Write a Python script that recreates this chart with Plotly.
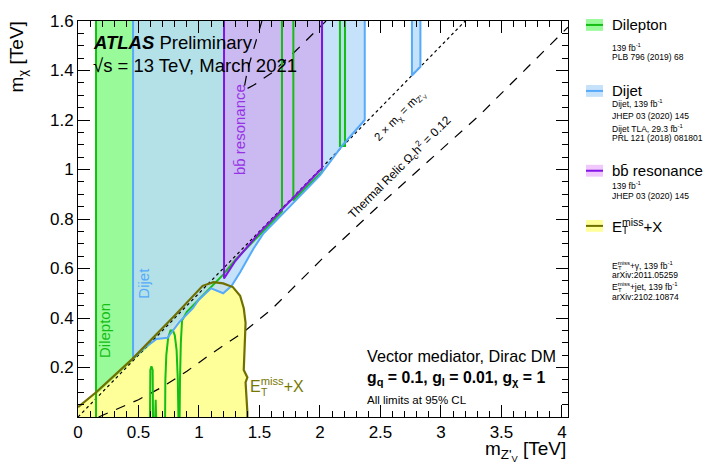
import plotly.graph_objects as go

# ---------------- data (TeV) ----------------
# E_T^miss + X exclusion contour
etmiss_x = [0.0, 0.0, 0.15, 0.45, 0.8, 1.03, 1.12, 1.2, 1.28, 1.34, 1.37, 1.385, 1.375, 1.37, 1.40, 1.385, 1.40, 1.40, 0.0]
etmiss_y = [0.0, 0.04, 0.10, 0.235, 0.41, 0.53, 0.545, 0.54, 0.525, 0.49, 0.44, 0.38, 0.28, 0.19, 0.16, 0.14, 0.02, 0.0, 0.0]

# Dilepton exclusion (main band + islands)
dilep_x = [0.149, 0.149, 1.686, 1.686, 1.5, 1.3, 1.2, 1.1, 1.0, 0.9, 0.86, 0.455, 0.149]
dilep_y = [0.09, 1.6, 1.6, 0.83, 0.735, 0.635, 0.575, 0.525, 0.475, 0.425, 0.405, 0.228, 0.09]
dilep_isl1_x = [1.78, 1.78, 1.9, 2.017, 2.017, 1.78]
dilep_isl1_y = [1.6, 0.875, 0.935, 0.99, 1.6, 1.6]
dilep_isl2_x = [2.165, 2.165, 2.207, 2.207, 2.165]
dilep_isl2_y = [1.6, 1.095, 1.095, 1.6, 1.6]
# Dilepton contour lines
dilep_left_x = [0.149, 0.149]
dilep_left_y = [0.0, 1.6]
dilep_edge_x = [1.686, 1.686, 1.5, 1.3, 1.2, 1.1, 1.0, 0.9, 0.86, 0.85, 0.843, 0.84]
dilep_edge_y = [1.6, 0.83, 0.735, 0.635, 0.575, 0.525, 0.475, 0.425, 0.39, 0.3, 0.15, 0.0]
dilep_spike_x = [0.595, 0.598, 0.607, 0.617, 0.62]
dilep_spike_y = [0.0, 0.19, 0.205, 0.19, 0.0]
dilep_spike2_x = [0.638, 0.642, 0.646]
dilep_spike2_y = [0.0, 0.07, 0.0]
dilep_arch_x = [0.72, 0.722, 0.73, 0.745, 0.765, 0.785, 0.80, 0.815, 0.825, 0.83]
dilep_arch_y = [0.0, 0.15, 0.25, 0.32, 0.35, 0.35, 0.33, 0.27, 0.15, 0.0]

# Dijet exclusion
dijet_x = [0.455, 0.455, 0.55, 0.65, 0.74, 0.78, 0.84, 0.95, 1.0, 1.1, 1.2, 1.27, 1.34, 1.45, 1.53, 1.75, 2.0, 2.19, 2.37, 2.37, 0.455]
dijet_y = [1.6, 0.235, 0.28, 0.315, 0.32, 0.345, 0.385, 0.44, 0.475, 0.52, 0.50, 0.53, 0.585, 0.68, 0.74, 0.85, 0.976, 1.10, 1.2, 1.6, 1.6]
dijet_isl_x = [2.76, 2.76, 2.83, 2.83, 2.76]
dijet_isl_y = [1.6, 1.38, 1.415, 1.6, 1.6]

# b-bbar resonance exclusion
bb_x = [1.207, 1.207, 1.3, 1.5, 2.017, 2.017, 1.207]
bb_y = [1.6, 0.56, 0.63, 0.745, 1.005, 1.6, 1.6]

# reference curves
diag_x = [0.0, 3.2]
diag_y = [0.0, 1.6]
relic_x = [0.17, 0.3, 0.5, 0.7, 0.9, 1.1, 1.36, 1.6, 2.02, 2.5, 3.0, 3.32, 3.71, 4.05]
relic_y = [0.0, 0.028, 0.07, 0.122, 0.185, 0.255, 0.34, 0.435, 0.64, 0.86, 1.08, 1.22, 1.41, 1.575]
relic2_x = [1.52, 1.46, 1.40, 1.37, 1.45, 1.6, 1.8, 2.05]
relic2_y = [1.6, 1.50, 1.40, 1.32, 1.34, 1.39, 1.48, 1.6]

# x / y axis ticks
x_ticks = [0, 0.5, 1, 1.5, 2, 2.5, 3, 3.5, 4]
y_ticks = [0.2, 0.4, 0.6, 0.8, 1.0, 1.2, 1.4, 1.6]

# legend texts
legend_heads = ["Dilepton", "Dijet", "bb\u0304 resonance", "E<sup>miss</sup>+X"]
legend_subs = [
    ["139 fb<sup>-1</sup>", "PLB 796 (2019) 68"],
    ["Dijet, 139 fb<sup>-1</sup>", "JHEP 03 (2020) 145", "Dijet TLA, 29.3 fb<sup>-1</sup>", "PRL 121 (2018) 081801"],
    ["139 fb<sup>-1</sup>", "JHEP 03 (2020) 145"],
    ["E<sup>miss</sup>+\u03b3, 139 fb<sup>-1</sup>", "arXiv:2011.05259", "E<sup>miss</sup>+jet, 139 fb<sup>-1</sup>", "arXiv:2102.10874"],
]

# ---------------- style ----------------
FONT = "Liberation Sans, Arial, Helvetica, sans-serif"
C_YEL_F = "rgba(255,255,153,1)"
C_YEL_L = "rgb(112,112,0)"
C_GRN_F = "rgba(51,245,51,0.5)"
C_GRN_L = "rgb(20,190,20)"
C_BLU_F = "rgba(185,219,249,0.82)"
C_BLU_L = "rgb(85,170,250)"
C_PUR_F = "rgba(226,146,250,0.5)"
C_PUR_L = "rgb(130,20,230)"

W, H = 707, 475
L, R, T, B = 78, 139, 15, 58
PW, PH = W - L - R, H - T - B


def px(xp):
    return (xp - L) / PW


def py(yp):
    return (H - B - yp) / PH


fig = go.Figure()


def fill(x, y, color):
    fig.add_trace(go.Scatter(x=x, y=y, mode="lines", fill="toself", fillcolor=color,
                             line=dict(width=0), hoverinfo="skip", showlegend=False))


def line(x, y, color, width=2, dash="solid"):
    fig.add_trace(go.Scatter(x=x, y=y, mode="lines",
                             line=dict(color=color, width=width, dash=dash),
                             hoverinfo="skip", showlegend=False))


fill(etmiss_x, etmiss_y, C_YEL_F)
fill(dilep_x, dilep_y, C_GRN_F)
fill(dilep_isl1_x, dilep_isl1_y, C_GRN_F)
fill(dilep_isl2_x, dilep_isl2_y, C_GRN_F)
fill(dijet_x, dijet_y, C_BLU_F)
fill(dijet_isl_x, dijet_isl_y, C_BLU_F)
fill(bb_x, bb_y, C_PUR_F)

line(diag_x, diag_y, "black", 1.2, "dot")
line(relic_x, relic_y, "black", 1.2, "10px,9px")
line(relic2_x, relic2_y, "black", 1.2, "10px,9px")

line(dilep_left_x, dilep_left_y, C_GRN_L)
line(dilep_edge_x, dilep_edge_y, C_GRN_L)
line(dilep_isl1_x[:5], dilep_isl1_y[:5], C_GRN_L)
line(dilep_isl2_x[:4], dilep_isl2_y[:4], C_GRN_L)
line(dilep_spike_x, dilep_spike_y, C_GRN_L)
line(dilep_spike2_x, dilep_spike2_y, C_GRN_L)
line(dilep_arch_x, dilep_arch_y, C_GRN_L)
line(dijet_x[:20], dijet_y[:20], C_BLU_L)
line(dijet_isl_x[:4], dijet_isl_y[:4], C_BLU_L)
line(bb_x[:6], bb_y[:6], C_PUR_L)
line(etmiss_x[1:18], etmiss_y[1:18], C_YEL_L, 2.2)

ann = []


def text(xp, yp, s, size, color="black", xa="left", ya="middle", angle=0, ref="paper"):
    ann.append(dict(x=px(xp) if ref == "paper" else xp, y=py(yp) if ref == "paper" else yp,
                    xref="paper" if ref == "paper" else "x", yref="paper" if ref == "paper" else "y",
                    text=s, showarrow=False, xanchor=xa, yanchor=ya, textangle=angle,
                    font=dict(family=FONT, size=size, color=color)))


# ATLAS label
text(91, 37, "<b><i>ATLAS</i></b> Preliminary", 18.5)
text(91, 60, "\u221as = 13 TeV, March 2021", 18.5)

# info box
text(365, 355, "Vector mediator, Dirac DM", 16.2)
text(365, 378, "<b>g<sub>q</sub> = 0.1, g<sub>l</sub> = 0.01, g<sub>\u03c7</sub> = 1</b>", 15.8)
text(365, 400, "All limits at 95% CL", 11.5)

# in-plot labels
text(0.22, 0.35, "Dilepton", 15, C_GRN_L, "center", "middle", -90, ref="data")
text(0.54, 0.54, "Dijet", 15, C_BLU_L, "center", "middle", -90, ref="data")
text(1.34, 1.16, "bb\u0304 resonance", 15, "rgb(150,50,230)", "center", "middle", -90, ref="data")
text(1.405, 0.13, "E<sup>miss</sup>+X", 16, "rgb(120,120,0)", "left", "middle", ref="data")
text(259, 392, "T", 10.5, "rgb(120,120,0)", "left", "middle")
text(2.66, 1.215, "2 \u00d7 m<sub>\u03c7</sub> = m<sub>Z'<sub>V</sub></sub>", 11.5, "black", "center", "middle", -46, ref="data")
text(2.66, 1.01, "Thermal Relic \u03a9<sub>c</sub>h<sup>2</sup> = 0.12", 12, "black", "center", "middle", -45, ref="data")

# axis titles
text(568, 452, "m<sub>Z'<sub>V</sub></sub> [TeV]", 19, "black", "right", "middle")
text(18, 14, "m<sub>\u03c7</sub> [TeV]", 19, "black", "center", "top", -90)

# legend
head_y = [19, 86, 167, 223]
sub_y = [[42, 52], [99, 111, 124, 134], [182, 193], [263, 273, 285, 295]]
fills = [C_GRN_F, C_BLU_F, C_PUR_F, C_YEL_F]
lines = [C_GRN_L, C_BLU_L, C_PUR_L, C_YEL_L]
shapes = []
for i in range(4):
    yc = head_y[i]
    shapes.append(dict(type="rect", xref="paper", yref="paper", x0=px(586), x1=px(603),
                       y0=py(yc + 6), y1=py(yc - 6), fillcolor=fills[i], line=dict(width=0), layer="above"))
    shapes.append(dict(type="line", xref="paper", yref="paper", x0=px(586), x1=px(603),
                       y0=py(yc), y1=py(yc), line=dict(color=lines[i], width=2), layer="above"))
    text(610, yc, legend_heads[i], 15)
    for s, yy in zip(legend_subs[i], sub_y[i]):
        text(610, yy, s, 8.5)
# subscripts T under "miss"
text(620, 228, "T", 10)
text(615.5, 266, "T", 6)
text(615.5, 288, "T", 6)

axis_common = dict(showline=True, linecolor="black", linewidth=1, mirror="ticks", ticks="inside",
                   tickcolor="black", tickwidth=1, ticklen=12, showgrid=False, zeroline=False,
                   tickfont=dict(family=FONT, size=17, color="black"))

fig.update_layout(
    width=W, height=H, margin=dict(l=L, r=R, t=T, b=B, pad=0),
    paper_bgcolor="white", plot_bgcolor="white",
    xaxis=dict(range=[0, 4.05], tickmode="array", tickvals=x_ticks,
               ticktext=[f"{v:g}" for v in x_ticks],
               minor=dict(tickvals=[i / 10 for i in range(41)], ticklen=6, ticks="inside", tickcolor="black"),
               **axis_common),
    yaxis=dict(range=[0, 1.6], tickmode="array", tickvals=y_ticks,
               ticktext=[f"{v:g}" for v in y_ticks],
               minor=dict(tickvals=[i / 20 for i in range(33)], ticklen=6, ticks="inside", tickcolor="black"),
               **axis_common),
    annotations=ann, shapes=shapes, showlegend=False,
)

fig.write_html("out.html", config={"displayModeBar": False},
               post_script="document.body.style.margin='0px';document.body.style.overflow='hidden';")
